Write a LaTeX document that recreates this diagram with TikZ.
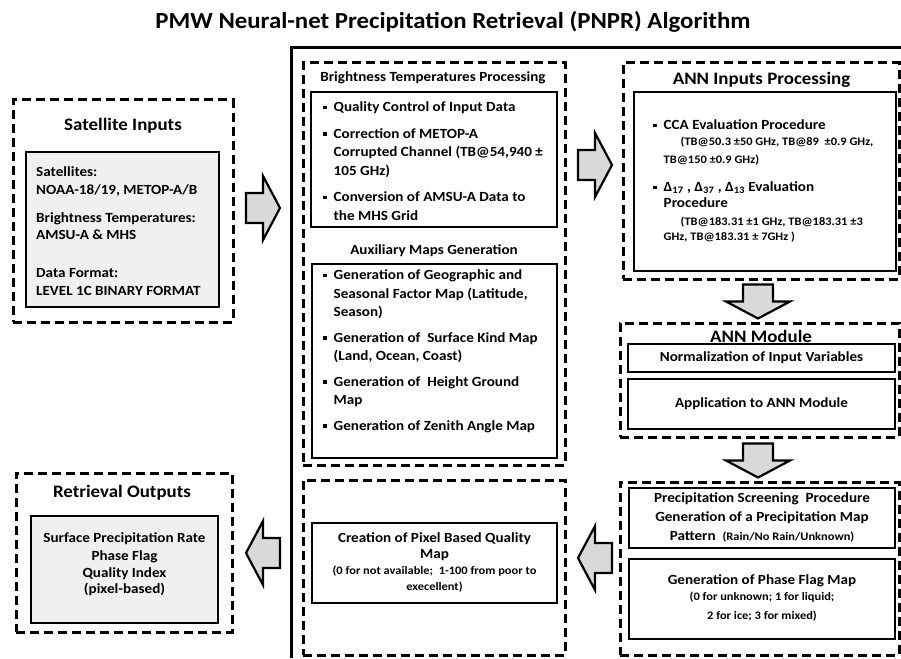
\documentclass[tikz,border=0pt]{standalone}
\usepackage{fontspec}
\setmainfont{Carlito}[FakeStretch=1.08]
\usetikzlibrary{positioning, calc}

\newcommand{\sqb}{\rule[2.5pt]{3.5pt}{3.5pt}}
\newcommand{\smalltb}{\fontsize{11.5}{13}\selectfont}

\tikzset{
  dashbox/.style={draw, line width=3pt, dash pattern=on 9pt off 5pt, inner sep=0pt},
  plainbox/.style={draw, line width=1.3pt, inner sep=0pt, font=\bfseries\fontsize{14}{17}\selectfont},
  greybox/.style={plainbox, fill=black!6},
  headtext/.style={inner sep=0pt, font=\bfseries\fontsize{17.5}{20}\selectfont},
  midtext/.style={inner sep=0pt, font=\bfseries\fontsize{14}{16}\selectfont},
  listtext/.style={inner sep=0pt, anchor=north west, font=\bfseries\fontsize{14}{18.5}\selectfont},
  blockarrow/.pic={
    \draw[line width=2.2pt, fill=black!15, miter limit=20]
      (-17,-15) -- (0,-15) -- (0,-32) -- (17,0) -- (0,32) -- (0,15) -- (-17,15) -- cycle;
  }
}

\begin{document}
\begin{tikzpicture}[x=1pt, y=-1pt]

  \useasboundingbox (0,0) rectangle (901,658);

  \node[font=\bfseries\fontsize{23}{27}\selectfont] (title) at (453,22) {PMW Neural-net Precipitation Retrieval (PNPR) Algorithm};

  % frame round the algorithm
  \draw[line width=3pt] (901,48) -- (291,48) -- (291,658);

  % inputs
  \node[dashbox, minimum width=220pt, minimum height=222pt] (satbox) at (123,211) {};
  \node[headtext] (sattitle) at (123,126) {Satellite Inputs};
  \node[greybox, minimum width=193pt, minimum height=155pt] (satin) at (122.5,229.5) {};
  \node[listtext, font=\bfseries\fontsize{14}{17.5}\selectfont] (sattext) at (36,164.3) {%
    \begin{tabular}{@{}l@{}}
      Satellites:\\
      NOAA-18/19, METOP-A/B\\[10.5pt]
      Brightness Temperatures:\\
      AMSU-A \& MHS\\[20.5pt]
      Data Format:\\
      LEVEL 1C BINARY FORMAT
    \end{tabular}};

  % brightness temperatures and auxiliary maps
  \node[dashbox, minimum width=262pt, minimum height=402pt] (btbox) at (434,264) {};
  \node[midtext] (bttitle) at (433,78) {Brightness Temperatures Processing};
  \node[plainbox, minimum width=246pt, minimum height=135pt] (btin) at (434,159.5) {};
  \node[listtext] (bttext) at (323,98.5) {%
    \begin{tabular}{@{}l@{\hspace{7pt}}l@{}}
      \sqb & Quality Control of Input Data\\[8pt]
      \sqb & Correction of  METOP-A\\
           & Corrupted Channel (TB@54,940 ±\\
           & 105 GHz)\\[8pt]
      \sqb & Conversion of AMSU-A Data to\\
           & the MHS Grid
    \end{tabular}};

  \node[midtext] (auxtitle) at (434,251) {Auxiliary Maps Generation};
  \node[plainbox, minimum width=245pt, minimum height=194pt] (auxin) at (434.5,361) {};
  \node[listtext] (auxtext) at (323,266.5) {%
    \begin{tabular}{@{}l@{\hspace{7pt}}l@{}}
      \sqb & Generation of Geographic and\\
           & Seasonal Factor Map (Latitude,\\
           & Season)\\[7pt]
      \sqb & Generation of \ Surface Kind Map\\
           & (Land, Ocean, Coast)\\[7pt]
      \sqb & Generation of \ Height Ground\\
           & Map\\[7pt]
      \sqb & Generation of Zenith Angle Map
    \end{tabular}};

  % quality map
  \node[dashbox, minimum width=262pt, minimum height=175pt] (qualbox) at (434,567.5) {};
  \node[plainbox, minimum width=245pt, minimum height=80pt] (qualin) at (434.5,563) {%
    \begin{tabular}{@{}c@{}}
      Creation of Pixel Based Quality\\[-1pt]
      Map\\[-1pt]
      {\smalltb (0 for not available; \ 1-100 from poor to}\\[-1pt]
      {\smalltb execellent)}
    \end{tabular}};

  % ANN inputs
  \node[dashbox, minimum width=276pt, minimum height=216pt] (annbox) at (761,171) {};
  \node[headtext] (anntitle) at (761.5,80) {ANN Inputs Processing};
  \node[plainbox, minimum width=262pt, minimum height=179pt] (annin) at (765,181.5) {};
  \node[listtext, font=\bfseries\fontsize{14}{17}\selectfont] (anntext) at (653,117.6) {%
    \begin{tabular}{@{}l@{\hspace{7pt}}l@{}}
      \sqb & CCA Evaluation Procedure\\[-1pt]
           & \hspace{17pt}{\smalltb (TB@50.3 ±50 GHz, TB@89 \ ±0.9 GHz,}\\[1pt]
           & {\smalltb TB@150 ±0.9 GHz)}\\[11pt]
      \sqb & Δ\textsubscript{17} , Δ\textsubscript{37} , Δ\textsubscript{13} Evaluation\\[-1pt]
           & Procedure\\[1pt]
           & \hspace{17pt}{\smalltb (TB@183.31 ±1 GHz, TB@183.31 ±3}\\[-2pt]
           & {\smalltb GHz, TB@183.31 ± 7GHz )}
    \end{tabular}};

  % ANN module
  \node[dashbox, minimum width=279pt, minimum height=114pt] (modbox) at (759.5,380) {};
  \node[headtext] (modtitle) at (761,336) {ANN Module};
  \node[plainbox, minimum width=267pt, minimum height=28pt] (norm) at (761.5,358) {Normalization of Input Variables};
  \node[plainbox, minimum width=267pt, minimum height=50pt] (appl) at (761.5,404) {Application to ANN Module};

  % screening and phase
  \node[dashbox, minimum width=279pt, minimum height=173pt] (precbox) at (759.5,568.5) {};
  \node[plainbox, minimum width=266pt, minimum height=60pt] (screen) at (762,518) {%
    \begin{tabular}{@{}c@{}}
      Precipitation Screening \ Procedure\\[2pt]
      Generation of a Precipitation Map\\[2pt]
      Pattern \ {\smalltb (Rain/No Rain/Unknown)}
    \end{tabular}};
  \node[plainbox, minimum width=266pt, minimum height=80pt] (phase) at (762,599) {%
    \begin{tabular}{@{}c@{}}
      Generation of Phase Flag Map\\[-1pt]
      {\smalltb (0 for unknown; 1 for liquid;}\\[2pt]
      {\smalltb 2 for ice; 3 for mixed)}
    \end{tabular}};

  % outputs
  \node[dashbox, minimum width=216pt, minimum height=159pt] (outbox) at (124,552.5) {};
  \node[headtext] (outtitle) at (122,493) {Retrieval Outputs};
  \node[greybox, minimum width=187pt, minimum height=107pt] (outin) at (124.5,569.5) {};
  \node[inner sep=0pt, anchor=north, font=\bfseries\fontsize{14}{17}\selectfont] (outtext) at (124.5,530.6) {%
    \begin{tabular}{@{}c@{}}
      Surface Precipitation Rate\\[1pt]
      Phase Flag\\
      Quality Index\\[-1pt]
      (pixel-based)
    \end{tabular}};

  % block arrows
  \pic at (263,208) {blockarrow};
  \pic at (595,165) {blockarrow};
  \pic[rotate=-90] at (758,301.5) {blockarrow};
  \pic[rotate=-90] at (758,460.5) {blockarrow};
  \pic[rotate=180] at (595,558) {blockarrow};
  \pic[rotate=180] at (263,553) {blockarrow};

\end{tikzpicture}
\end{document}
